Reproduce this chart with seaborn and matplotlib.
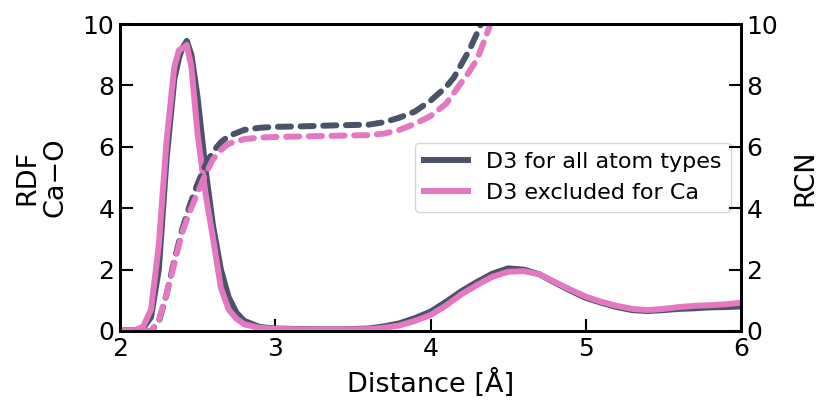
import matplotlib
matplotlib.use("Agg")
import matplotlib.pyplot as plt
import seaborn as sns
import pandas as pd

# RDF data (Ca-O)
x_rdf = [2.0, 2.1, 2.15, 2.2, 2.25, 2.3, 2.35, 2.38, 2.4, 2.43, 2.46, 2.5, 2.55, 2.6, 2.65,
         2.7, 2.75, 2.8, 2.9, 3.0, 3.2, 3.4, 3.6, 3.7, 3.8, 3.9, 4.0, 4.1, 4.2, 4.3,
         4.4, 4.5, 4.6, 4.7, 4.8, 4.9, 5.0, 5.1, 5.2, 5.3, 5.4, 5.5, 5.6, 5.7, 5.8, 5.9, 6.0]
rdf_all = [0.02, 0.03, 0.1, 0.45, 2.0, 5.6, 8.2, 8.9, 9.2, 9.45, 9.0, 7.6, 5.3, 3.4, 2.0,
           1.1, 0.6, 0.33, 0.13, 0.08, 0.06, 0.05, 0.08, 0.15, 0.25, 0.42, 0.63, 0.95, 1.3, 1.6,
           1.87, 2.04, 2.0, 1.85, 1.58, 1.32, 1.08, 0.92, 0.78, 0.68, 0.65, 0.68, 0.72, 0.74, 0.77, 0.78, 0.8]
rdf_noca = [0.02, 0.03, 0.15, 0.7, 2.8, 6.2, 8.6, 9.15, 9.2, 9.32, 8.6, 6.4, 4.5, 3.0, 1.4,
            0.7, 0.4, 0.22, 0.1, 0.07, 0.05, 0.05, 0.06, 0.1, 0.18, 0.33, 0.52, 0.83, 1.2, 1.5,
            1.77, 1.93, 1.95, 1.85, 1.6, 1.35, 1.12, 0.95, 0.82, 0.72, 0.68, 0.72, 0.78, 0.82, 0.84, 0.87, 0.92]

# RCN data
x_rcn = [2.0, 2.2, 2.25, 2.3, 2.35, 2.4, 2.45, 2.5, 2.55, 2.6, 2.65, 2.7, 2.8, 2.9, 3.0,
         3.2, 3.4, 3.6, 3.7, 3.8, 3.9, 4.0, 4.1, 4.15, 4.2, 4.25, 4.3, 4.35, 4.4, 4.45]
rcn_all = [0.0, 0.0, 0.3, 1.2, 2.3, 3.3, 4.1, 4.8, 5.4, 5.85, 6.15, 6.35, 6.55, 6.62, 6.65,
           6.67, 6.7, 6.72, 6.8, 6.95, 7.15, 7.5, 7.95, 8.25, 8.7, 9.15, 9.7, 10.3, 10.9, 11.5]
rcn_noca = [0.0, 0.0, 0.35, 1.2, 2.2, 3.2, 3.9, 4.5, 5.1, 5.6, 5.9, 6.1, 6.25, 6.3, 6.32,
            6.34, 6.36, 6.38, 6.43, 6.55, 6.75, 7.0, 7.4, 7.75, 8.1, 8.45, 8.85, 9.5, 10.2, 10.9]

labels = ["D3 for all atom types", "D3 excluded for Ca"]
c_dark = "#4b5369"
c_pink = "#e377c2"

plt.rcParams['font.family'] = ['DejaVu Sans']

fig = plt.figure(figsize=(8.31, 4.16), dpi=100)
ax = fig.add_axes([120/831, 1-331/416, (741-120)/831, (331-24)/416])
ax2 = ax.twinx()

sns.lineplot(x=x_rdf, y=rdf_all, ax=ax, color=c_dark, linewidth=4.3, label=labels[0])
sns.lineplot(x=x_rdf, y=rdf_noca, ax=ax, color=c_pink, linewidth=4.3, label=labels[1])
sns.lineplot(x=x_rcn, y=rcn_all, ax=ax2, color=c_dark, linewidth=4.3, linestyle=(0, (2.2, 1.6)),
             dash_capstyle='round', legend=False)
sns.lineplot(x=x_rcn, y=rcn_noca, ax=ax2, color=c_pink, linewidth=4.3, linestyle=(0, (2.2, 1.6)),
             dash_capstyle='round', legend=False)

ax.set_xlim(2, 6)
ax.set_ylim(0, 10)
ax2.set_ylim(0, 10)
ax.set_xticks([2, 3, 4, 5, 6])
ax.set_yticks([0, 2, 4, 6, 8, 10])
ax2.set_yticks([0, 2, 4, 6, 8, 10])

ax.tick_params(direction='in', length=9, width=1.5, labelsize=18, right=False, top=False, pad=4)
ax2.tick_params(direction='in', length=9, width=1.5, labelsize=18, pad=4)

for a in (ax, ax2):
    for s in a.spines.values():
        s.set_linewidth(2)
        s.set_color('black')

ax.set_xlabel("Distance [Å]", fontsize=19.5, labelpad=6)
ax.set_ylabel("RDF\nCa−O", fontsize=19.5, labelpad=10, linespacing=1.1)
ax2.set_ylabel("RCN", fontsize=19.5, labelpad=10)

leg = ax.legend(loc='upper left', bbox_to_anchor=((415-120)/621, (331-143)/307),
                borderaxespad=0, fontsize=16, frameon=True, handlelength=2.0)
leg.get_frame().set_edgecolor('#cccccc')
for l in leg.get_lines():
    l.set_linewidth(4.3)

fig.savefig("out.png", dpi=100)
